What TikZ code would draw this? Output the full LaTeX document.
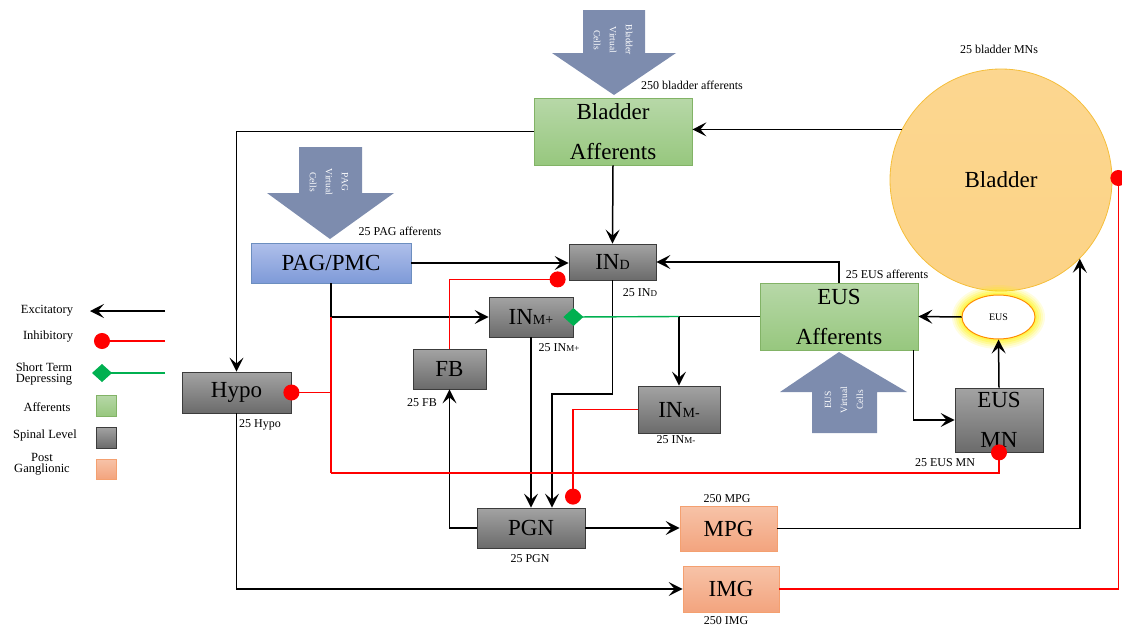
\documentclass[tikz,border=0pt]{standalone}
\usepackage{fontspec}
\setmainfont{Liberation Serif}
\usetikzlibrary{arrows.meta,calc,shapes.geometric}
\definecolor{grtop}{HTML}{B7D8A8}
\definecolor{grbot}{HTML}{97C77E}
\definecolor{grdraw}{HTML}{82B366}
\definecolor{gytop}{HTML}{A3A3A3}
\definecolor{gybot}{HTML}{6B6B6B}
\definecolor{gydraw}{HTML}{3C3C3C}
\definecolor{bltop}{HTML}{AFBFEA}
\definecolor{blbot}{HTML}{7E9AD8}
\definecolor{bldraw}{HTML}{6C8EBF}
\definecolor{ortop}{HTML}{F7C3A8}
\definecolor{orbot}{HTML}{F3A47E}
\definecolor{ordraw}{HTML}{F4A070}
\definecolor{bladfill}{HTML}{FCD386}
\definecolor{bladdraw}{HTML}{F5BE3A}
\definecolor{vcell}{HTML}{7D8CAE}
\definecolor{inhred}{HTML}{FF0000}
\definecolor{stdgreen}{HTML}{00B050}
\newcommand\subsc[1]{{\fontsize{14}{14}\selectfont #1}}
\newcommand\lsub[1]{{\fontsize{9}{9}\selectfont #1}}
\begin{document}
\begin{tikzpicture}[x=1pt,y=-1pt,
  box/.style={rectangle, inner sep=0pt, align=center, line width=0.8pt, font=\fontsize{23}{40}\selectfont},
  gbox/.style={box, draw=grdraw, top color=grtop, bottom color=grbot},
  ybox/.style={box, draw=gydraw, top color=gytop, bottom color=gybot},
  bbox/.style={box, draw=bldraw, top color=bltop, bottom color=blbot},
  obox/.style={box, draw=ordraw, top color=ortop, bottom color=orbot},
  lab/.style={font=\fontsize{12}{12}\selectfont, inner sep=0pt},
  leg/.style={font=\fontsize{12.5}{11}\selectfont, inner sep=0pt, align=center},
  vtext/.style={text=white, align=center, font=\fontsize{9.5}{16}\selectfont, inner sep=0pt},
  exc/.style={draw=black, line width=1.5pt, -{Stealth[length=14pt,width=14pt,inset=6pt]}},
  inh/.style={draw=inhred, line width=1.4pt, -{Circle[length=16pt,width=16pt]}, shorten >=-8pt},
  inhline/.style={draw=inhred, line width=1.4pt},
  stdep/.style={draw=stdgreen, line width=1.4pt, -{Diamond[length=20pt,width=18pt]}, shorten >=-10pt},
  varrow/.style={fill=vcell}
]
\useasboundingbox (0,0) rectangle (1122,629);

% virtual cell block arrows
\fill[varrow] (583,10) -- (645,10) -- (645,53) -- (676,53) -- (614,95) -- (552,53) -- (583,53) -- cycle;
\node[vtext, rotate=-90] (bvc) at (613,40) {Bladder\\Virtual\\Cells};
\fill[varrow] (299,147) -- (362,147) -- (362,193) -- (394,193) -- (330,239) -- (267,193) -- (299,193) -- cycle;
\node[vtext, rotate=-90] (pvc) at (329,182) {PAG\\Virtual\\Cells};
\fill[varrow] (812,433) -- (877,433) -- (877,392) -- (907,392) -- (839,352) -- (780,392) -- (812,392) -- cycle;
\node[vtext, rotate=90] (evc) at (844,400) {EUS\\Virtual\\Cells};

% bladder
\node[circle, minimum size=222pt, inner sep=0pt, draw=bladdraw, line width=0.8pt, top color=bladfill!92!white, bottom color=bladfill, font=\fontsize{23}{26}\selectfont] (bladder) at (1001,180) {Bladder};
\node[lab] (lbmn) at (999,49) {25 bladder MNs};

% glow around EUS ellipse
\foreach \r/\o in {10/0.12,8/0.15,6/0.2,4/0.25,2/0.3}{
  \fill[yellow, opacity=\o] (998.5,317) ellipse[x radius=36.5+\r, y radius=22+\r];
}
\node[ellipse, minimum width=73pt, minimum height=44pt, inner sep=0pt, draw=orange!90!yellow, fill=white, line width=1pt, font=\fontsize{10}{10}\selectfont] (eus) at (998.5,317) {EUS};

% boxes
\node[gbox, minimum width=158pt, minimum height=67pt] (baff) at (613,131.5) {Bladder\\Afferents};
\node[bbox, minimum width=160pt, minimum height=40pt] (pag) at (331,263) {PAG/PMC};
\node[ybox, minimum width=87pt, minimum height=36pt] (ind) at (612.5,262) {IN\subsc{D}};
\node[ybox, minimum width=84pt, minimum height=40pt] (inmp) at (531,317) {IN\subsc{M+}};
\node[ybox, minimum width=73pt, minimum height=40pt] (fb) at (449.5,369) {FB};
\node[ybox, minimum width=82pt, minimum height=47pt] (inmm) at (679,409.5) {IN\subsc{M-}};
\node[ybox, minimum width=109pt, minimum height=41pt] (hypo) at (236.5,392.5) {Hypo};
\node[ybox, minimum width=108pt, minimum height=40pt] (pgn) at (531,528) {PGN};
\node[obox, minimum width=97pt, minimum height=45pt] (mpg) at (728.5,528.5) {MPG};
\node[obox, minimum width=96pt, minimum height=46pt] (img) at (731,589) {IMG};
\node[gbox, minimum width=158pt, minimum height=67pt] (eusaff) at (839,316.5) {EUS\\Afferents};
\node[ybox, minimum width=88pt, minimum height=64pt] (eusmn) at (999,420) {EUS\\MN};

% population labels
\node[lab] (l1) at (692,85) {250 bladder afferents};
\node[lab] (l2) at (400,231) {25 PAG afferents};
\node[lab] (l3) at (640,293) {25 IN\lsub{D}};
\node[lab] (l4) at (559,348) {25 IN\lsub{M+}};
\node[lab] (l5) at (422,403) {25 FB};
\node[lab] (l6) at (676,440) {25 IN\lsub{M-}};
\node[lab] (l7) at (530,559) {25 PGN};
\node[lab] (l8) at (727,499) {250 MPG};
\node[lab] (l9) at (726,621) {250 IMG};
\node[lab] (l10) at (260,425) {25 Hypo};
\node[lab] (l11) at (887,274) {25 EUS afferents};
\node[lab] (l12) at (945,463) {25 EUS MN};

% helper coordinates
\coordinate (y394) at (0,394);
\coordinate (y473) at (0,473);
\coordinate (pgnb) at ($(pgn.north)+(21,0)$);
\coordinate (pgnr) at ($(pgn.north)+(42,-11)$);
\coordinate (indin) at ($(ind.south west)+(-11,-1)$);
\coordinate (ea2) at ($(eusaff.south east)+(-5,0)$);
\coordinate (bdot) at ($(bladder.east)+(6,-2)$);
\coordinate (pagj) at (pag.south |- inmp.west);

% excitatory connections
\draw[exc] (bladder.153.5) -- (bladder.153.5 -| baff.east);
\draw[exc] (baff.west) -| (hypo.north);
\draw[exc] (baff.south) -- (ind.north);
\draw[exc] (pag.east) -- (pag.east -| ind.west);
\draw[exc] (pag.south) |- (inmp.west);
\draw[exc] (eusaff.north) |- (ind.east);
\draw[exc] (eusaff.west) -| (inmm.north);
\draw[exc] (eus.west) -- (eusaff.east);
\draw[exc] (ea2) |- (eusmn.west);
\draw[exc] (eusmn.north) -- (eus.south);
\draw[exc] (inmp.south) -- (inmp.south |- pgn.north);
\draw[exc] (ind.south) -- (ind.south |- y394) -| (pgnb);
\draw[exc] (pgn.west) -| (fb.south);
\draw[exc] (pgn.east) -- (pgn.east -| mpg.west);
\draw[exc] (mpg.east) -| (bladder.-45);
\draw[exc] (hypo.south) |- (img.west);

% short term depressing
\draw[stdep] (inmm.north |- eusaff.west) -- (inmp.east);

% inhibitory connections
\draw[inhline] (pagj) -- (pagj |- y473);
\draw[inh] (pagj |- y473) -| (eusmn.south);
\draw[inh] (pagj |- hypo.east) -- (hypo.east);
\draw[inh] (fb.north) |- (indin);
\draw[inh] (inmm.west) -| (pgnr);
\draw[inh] (img.east) -| (bdot);

% legend
\node[leg] (lg1) at (47,311) {Excitatory};
\node[leg] (lg2) at (48,337) {Inhibitory};
\node[leg] (lg3) at (44,374) {Short Term\\Depressing};
\node[leg] (lg4) at (47,407) {Afferents};
\node[leg] (lg5) at (45,435) {Spinal Level};
\node[leg] (lg6) at (42,464) {Post\\Ganglionic};
\coordinate (e1a) at (165,311);
\coordinate (e1b) at (90,311);
\coordinate (e2a) at (165,341);
\coordinate (e2b) at (102,341);
\coordinate (e3a) at (165,373);
\coordinate (e3b) at (102,373);
\draw[exc] (e1a) -- (e1b);
\draw[inh] (e2a) -- (e2b);
\draw[stdep] (e3a) -- (e3b);
\node[gbox, minimum width=20pt, minimum height=21pt] (sq1) at (106,405.5) {};
\node[ybox, minimum width=20pt, minimum height=21pt] (sq2) at (106,437.5) {};
\node[obox, minimum width=20pt, minimum height=20pt] (sq3) at (106,469) {};
\end{tikzpicture}
\end{document}
